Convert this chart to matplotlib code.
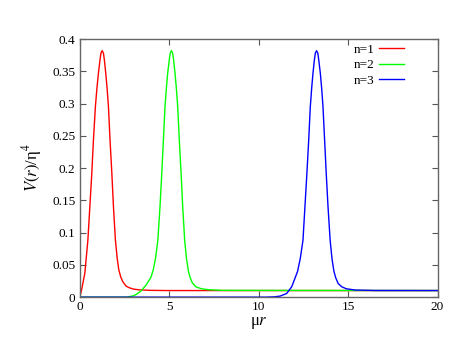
import matplotlib
matplotlib.use('Agg')
import matplotlib.pyplot as plt
from matplotlib.ticker import FormatStrFormatter, MultipleLocator

plt.rcParams['font.family'] = ['Liberation Serif', 'DejaVu Serif']
plt.rcParams['mathtext.fontset'] = 'stix'

# values
x_n1 = [0, 0.1, 0.29, 0.46, 0.57, 0.68, 0.77, 0.88, 0.97, 1.05, 1.14, 1.19, 1.26, 1.33, 1.38,
        1.46, 1.54, 1.61, 1.70, 1.80, 1.89, 2.0, 2.1, 2.19, 2.3, 2.41, 2.6, 2.78, 3.0, 3.34,
        4.0, 5.0, 20]
y_n1 = [0, 0.010, 0.037, 0.088, 0.14, 0.192, 0.243, 0.295, 0.325, 0.347, 0.368, 0.378, 0.382, 0.378, 0.368,
        0.347, 0.322, 0.295, 0.243, 0.192, 0.14, 0.088, 0.060, 0.042, 0.031, 0.024, 0.017, 0.0145, 0.0125, 0.0113,
        0.0105, 0.0102, 0.0102]

x_n2 = [0, 2.6, 3.0, 3.15, 3.43, 3.71, 3.99, 4.12, 4.25, 4.37, 4.49, 4.59, 4.68, 4.77, 4.85, 4.92,
        5.01, 5.06, 5.13, 5.20, 5.25, 5.33, 5.41, 5.48, 5.57, 5.67, 5.76, 5.87, 5.97, 6.08,
        6.18, 6.3, 6.5, 6.8, 7.2, 8.0, 20]
y_n2 = [0, 0, 0.002, 0.004, 0.0095, 0.0186, 0.031, 0.043, 0.062, 0.088, 0.14, 0.192, 0.243, 0.295, 0.325, 0.347,
        0.368, 0.378, 0.382, 0.378, 0.368, 0.347, 0.322, 0.295, 0.243, 0.192, 0.14, 0.088, 0.060, 0.040,
        0.030, 0.022, 0.016, 0.013, 0.0115, 0.0105, 0.0102]

x_n3 = [0, 10.4, 10.9, 11.2, 11.57, 11.85, 12.03, 12.18, 12.33, 12.48, 12.59, 12.70, 12.80, 12.89, 12.97, 13.04,
        13.12, 13.17, 13.24, 13.31, 13.36, 13.45, 13.53, 13.6, 13.69, 13.78, 13.88, 14.0, 14.1, 14.21,
        14.31, 14.45, 14.65, 14.9, 15.4, 16.5, 20]
y_n3 = [0, 0, 0.0005, 0.0016, 0.0057, 0.016, 0.029, 0.040, 0.060, 0.088, 0.14, 0.192, 0.243, 0.295, 0.325, 0.347,
        0.368, 0.378, 0.382, 0.378, 0.368, 0.347, 0.322, 0.295, 0.243, 0.192, 0.14, 0.088, 0.060, 0.040,
        0.030, 0.021, 0.016, 0.013, 0.011, 0.0103, 0.0102]

fig = plt.figure(figsize=(4.63, 3.58), dpi=100)
ax = fig.add_axes([0.172, 0.170, 0.773, 0.721])

ax.plot(x_n1, y_n1, color='#ff0000', lw=1.0, label='n=1')
ax.plot(x_n2, y_n2, color='#00ff00', lw=1.0, label='n=2')
ax.plot(x_n3, y_n3, color='#0000ff', lw=1.0, label='n=3')

ax.set_xlim(0, 20)
ax.set_ylim(0, 0.4)
ax.xaxis.set_major_locator(MultipleLocator(5))
ax.yaxis.set_major_locator(MultipleLocator(0.05))
ax.yaxis.set_major_formatter(FormatStrFormatter('%g'))
ax.xaxis.set_major_formatter(FormatStrFormatter('%g'))
ax.tick_params(direction='in', length=4, width=0.8, color='#555555',
               top=True, right=True, labelsize=9.5, pad=3)
for s in ax.spines.values():
    s.set_color('#666666')
    s.set_linewidth(1.0)

ax.set_xlabel('μ$r$', fontsize=12, labelpad=1)
ax.set_ylabel('$V(r)$/η$^4$', fontsize=12, labelpad=6)

ax.legend(loc='upper right', frameon=False, markerfirst=False, fontsize=9.5,
          handlelength=1.85, handletextpad=0.35, labelspacing=0.24,
          borderaxespad=0, borderpad=0, bbox_to_anchor=(0.905, 0.982))

fig.savefig('out.png', dpi=100)
